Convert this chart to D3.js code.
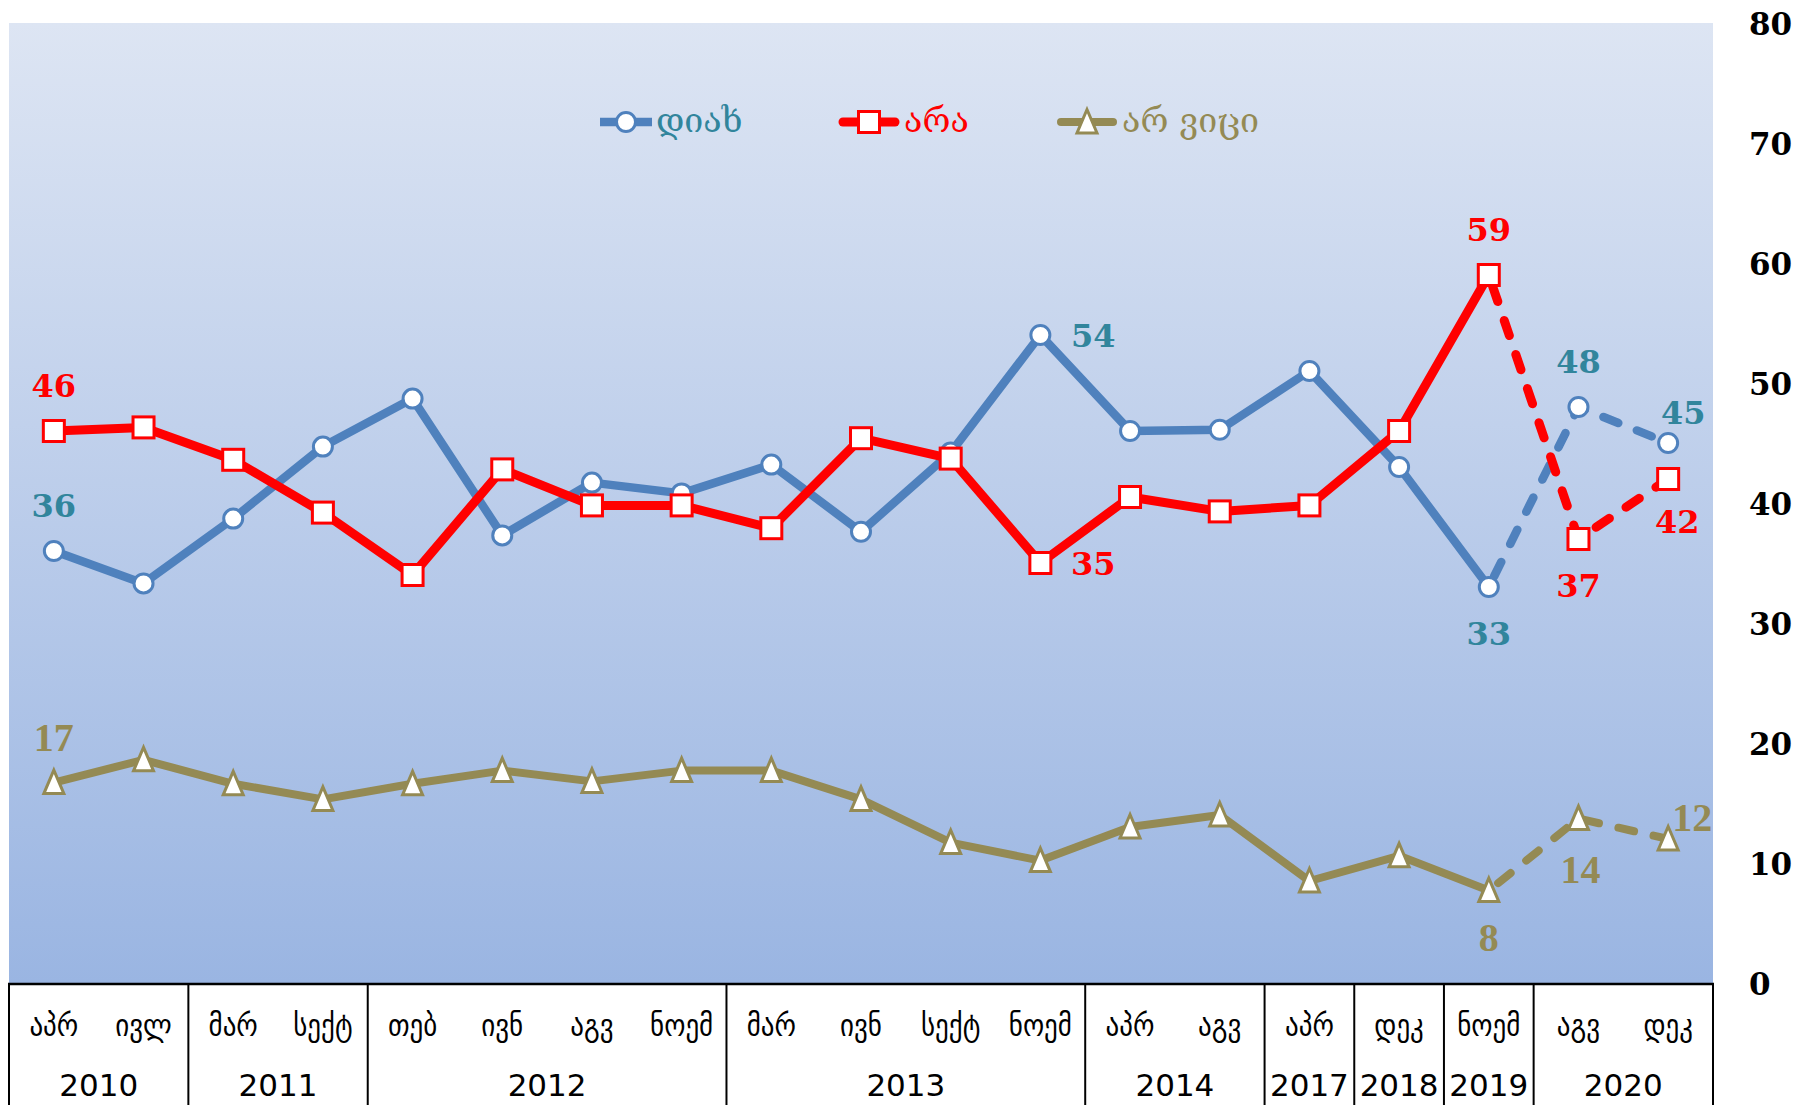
<!DOCTYPE html>
<html>
<head>
<meta charset="utf-8">
<script src="https://cdn.jsdelivr.net/npm/d3@7"></script>
<style>
  html, body { margin: 0; padding: 0; background: #ffffff; }
  svg { display: block; }
</style>
</head>
<body>
<svg id="chart" width="1810" height="1105"></svg>
<script>
// ---------------- DATA ----------------
const months = ["აპრ","ივლ","მარ","სექტ","თებ","ივნ","აგვ","ნოემ","მარ","ივნ","სექტ","ნოემ","აპრ","აგვ","აპრ","დეკ","ნოემ","აგვ","დეკ"];
const years = ["2010","2011","2012","2013","2014","2017","2018","2019","2020"];
const yearSpans = [2, 2, 4, 4, 2, 1, 1, 1, 2];

const seriesNames = ["დიახ", "არა", "არ ვიცი"];
const yesValues   = [36, 33.3, 38.7, 44.7, 48.7, 37.3, 41.7, 40.8, 43.2, 37.6, 44.2, 54, 46, 46.1, 51, 43, 33, 48, 45];
const noValues    = [46, 46.3, 43.6, 39.2, 34, 42.8, 39.8, 39.8, 37.9, 45.4, 43.7, 35, 40.5, 39.3, 39.8, 46, 59, 37, 42];
const dkValues    = [16.7, 18.6, 16.6, 15.3, 16.6, 17.7, 16.8, 17.7, 17.7, 15.3, 11.7, 10.2, 13, 14, 8.5, 10.6, 7.7, 13.7, 12];

const yTicks = [0, 10, 20, 30, 40, 50, 60, 70, 80];
const dashedFrom = 16; // segments after this index are dashed

// labelled points: [series index, point index, placement]
const labelPoints = [
  [0, 0, "above"], [0, 11, "right"], [0, 16, "below"], [0, 17, "above"], [0, 18, "aboveRight"],
  [1, 0, "above"], [1, 11, "right"], [1, 16, "above"], [1, 17, "below"], [1, 18, "belowRight"],
  [2, 0, "above"], [2, 16, "below"], [2, 17, "belowRight2"], [2, 18, "upRight"]
];

// ---------------- STYLE ----------------
const W = 1810, H = 1105;
const plot = { left: 9, right: 1713, top: 23, bottom: 983 };
const series = [
  { name: seriesNames[0], values: yesValues, color: "#4F81BD", labelColor: "#31859C", width: 8.5, marker: "circle" },
  { name: seriesNames[1], values: noValues,  color: "#FF0000", labelColor: "#FF0000", width: 9, marker: "square" },
  { name: seriesNames[2], values: dkValues,  color: "#948A54", labelColor: "#948A54", width: 8, marker: "triangle" }
];
const placeOffsets = {
  above: [0, -46], below: [0, 46], right: [53, 0],
  aboveRight: [15, -31], belowRight: [9, 42], belowRight2: [2, 50], upRight: [24, -22]
};

const svg = d3.select("#chart");

const x = d3.scaleBand().domain(d3.range(months.length)).range([plot.left, plot.right]).padding(0);
const y = d3.scaleLinear().domain([0, 80]).range([plot.bottom, plot.top]);
const cx = i => x(i) + x.bandwidth() / 2;

// background gradient
const defs = svg.append("defs");
const grad = defs.append("linearGradient").attr("id", "bg").attr("x1", 0).attr("y1", 0).attr("x2", 0).attr("y2", 1);
grad.append("stop").attr("offset", "0%").attr("stop-color", "#DDE5F3");
grad.append("stop").attr("offset", "100%").attr("stop-color", "#9AB5E2");

svg.append("rect")
  .attr("x", plot.left).attr("y", plot.top)
  .attr("width", plot.right - plot.left).attr("height", plot.bottom - plot.top)
  .attr("fill", "url(#bg)");

// Y axis on right
const yAxis = d3.axisRight(y).tickValues(yTicks).tickSize(0).tickPadding(36);
const yg = svg.append("g").attr("transform", `translate(${plot.right},0)`).call(yAxis);
yg.select(".domain").remove();
yg.selectAll("text")
  .attr("font-family", "'DejaVu Serif', serif")
  .attr("font-weight", "bold")
  .attr("font-size", 31)
  .attr("fill", "#000")
  .attr("dy", "0.36em");

// Lines & markers
const lineGen = d3.line().x((d) => cx(d.i)).y(d => y(d.v));

function drawMarker(g, type, color, px, py) {
  if (type === "circle") {
    g.append("circle").attr("cx", px).attr("cy", py).attr("r", 9.5)
      .attr("fill", "#fff").attr("stroke", color).attr("stroke-width", 3);
  } else if (type === "square") {
    g.append("rect").attr("x", px - 10.5).attr("y", py - 10.5).attr("width", 21).attr("height", 21)
      .attr("fill", "#fff").attr("stroke", color).attr("stroke-width", 3);
  } else {
    g.append("path")
      .attr("d", `M${px},${py - 12.5}L${px + 10},${py + 11}L${px - 10},${py + 11}Z`)
      .attr("fill", "#fff").attr("stroke", color).attr("stroke-width", 3).attr("stroke-linejoin", "miter");
  }
}

series.forEach(s => {
  const g = svg.append("g");
  const pts = s.values.map((v, i) => ({ i, v }));
  g.append("path").datum(pts.slice(0, dashedFrom + 1))
    .attr("d", lineGen).attr("fill", "none").attr("stroke", s.color)
    .attr("stroke-width", s.width).attr("stroke-linejoin", "round").attr("stroke-linecap", "round");
  g.append("path").datum(pts.slice(dashedFrom))
    .attr("d", lineGen).attr("fill", "none").attr("stroke", s.color)
    .attr("stroke-width", s.width).attr("stroke-linecap", "round")
    .attr("stroke-dasharray", "16,20").attr("stroke-dashoffset", -12);
  pts.forEach(p => drawMarker(g, s.marker, s.color, cx(p.i), y(p.v)));
});

// Data labels
labelPoints.forEach(([si, pi, place]) => {
  const s = series[si];
  const off = placeOffsets[place];
  const isDk = si === 2;
  svg.append("text")
    .attr("x", cx(pi) + off[0]).attr("y", y(s.values[pi]) + off[1])
    .attr("text-anchor", "middle").attr("dy", "0.36em")
    .attr("font-family", isDk ? "'Liberation Serif', serif" : "'DejaVu Serif', serif")
    .attr("font-weight", "bold")
    .attr("font-size", isDk ? 40 : 32)
    .attr("fill", s.labelColor)
    .text(Math.round(s.values[pi]));
});

// Legend
const legendItems = [
  { lineX: 600, textX: 656 },
  { lineX: 843, textX: 904 },
  { lineX: 1061, textX: 1122 }
];
const legendY = 122;
series.forEach((s, k) => {
  const li = legendItems[k];
  const g = svg.append("g");
  g.append("line").attr("x1", li.lineX).attr("x2", li.lineX + 52)
    .attr("y1", legendY).attr("y2", legendY)
    .attr("stroke", s.color).attr("stroke-width", s.width).attr("stroke-linecap", s.marker === "circle" ? "butt" : "round");
  drawMarker(g, s.marker, s.color, li.lineX + 26, legendY);
  g.append("text").attr("x", li.textX).attr("y", legendY).attr("dy", "0.3em")
    .attr("font-family", "'DejaVu Serif', serif").attr("font-size", 34)
    .attr("fill", s.labelColor).text(s.name);
});

// Table below the chart
const table = svg.append("g");
table.append("line").attr("x1", plot.left - 1).attr("x2", plot.right + 1)
  .attr("y1", plot.bottom + 1).attr("y2", plot.bottom + 1)
  .attr("stroke", "#000").attr("stroke-width", 2.5);

let idx = 0;
const boundaries = [0];
yearSpans.forEach(n => { idx += n; boundaries.push(idx); });
boundaries.forEach(b => {
  const bx = b < months.length ? x(b) : plot.right;
  table.append("line").attr("x1", bx).attr("x2", bx)
    .attr("y1", plot.bottom).attr("y2", H)
    .attr("stroke", "#000").attr("stroke-width", 2);
});

months.forEach((m, i) => {
  table.append("text").attr("x", cx(i)).attr("y", 1025).attr("dy", "0.35em")
    .attr("text-anchor", "middle")
    .attr("font-family", "'DejaVu Sans Condensed', 'DejaVu Sans', sans-serif")
    .attr("font-size", 30).attr("fill", "#000").text(m);
});

years.forEach((yr, k) => {
  const a = x(boundaries[k]);
  const bIdx = boundaries[k + 1];
  const b = bIdx < months.length ? x(bIdx) : plot.right;
  table.append("text").attr("x", (a + b) / 2).attr("y", 1085).attr("dy", "0.36em")
    .attr("text-anchor", "middle")
    .attr("font-family", "'DejaVu Sans', sans-serif")
    .attr("font-size", 31).attr("fill", "#000").text(yr);
});
</script>
</body>
</html>
